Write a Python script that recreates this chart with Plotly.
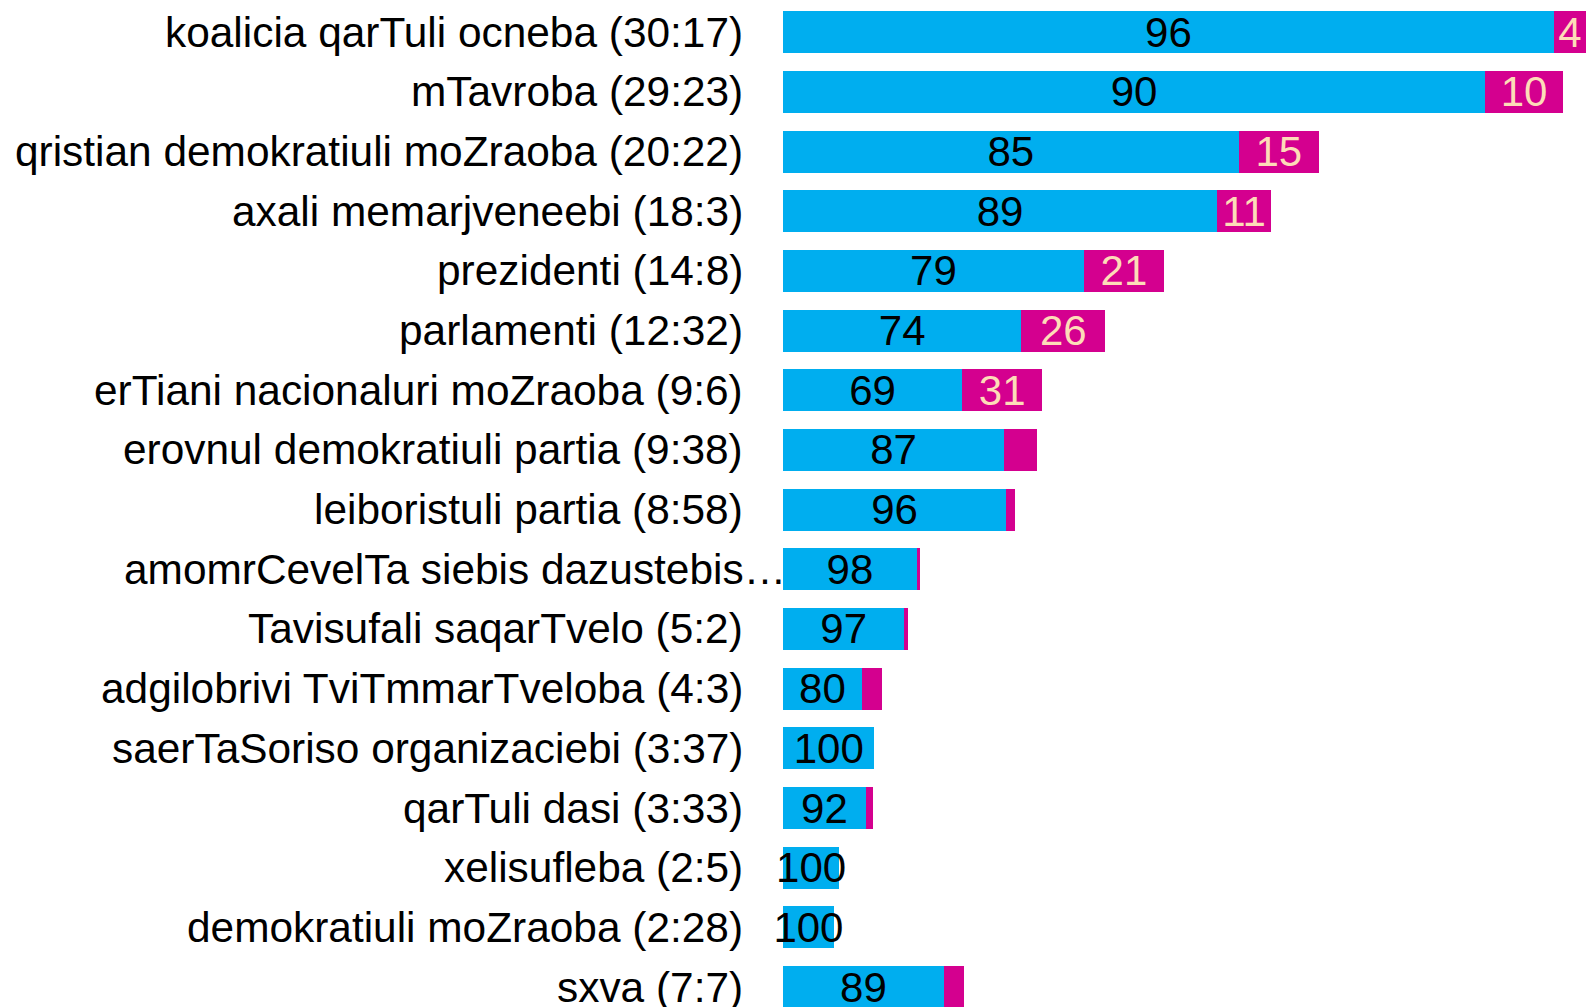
import plotly.graph_objects as go

# ---- data ----
labels = [
    "koalicia qarTuli ocneba (30:17)",
    "mTavroba (29:23)",
    "qristian demokratiuli moZraoba (20:22)",
    "axali memarjveneebi (18:3)",
    "prezidenti (14:8)",
    "parlamenti (12:32)",
    "erTiani nacionaluri moZraoba (9:6)",
    "erovnul demokratiuli partia (9:38)",
    "leiboristuli partia (8:58)",
    "amomrCevelTa siebis dazustebis…",
    "Tavisufali saqarTvelo (5:2)",
    "adgilobrivi TviTmmarTveloba (4:3)",
    "saerTaSoriso organizaciebi (3:37)",
    "qarTuli dasi (3:33)",
    "xelisufleba (2:5)",
    "demokratiuli moZraoba (2:28)",
    "sxva (7:7)",
]
totals = [1817, 1765, 1213, 1104, 862, 729, 587, 575, 526, 309, 283, 223, 207, 204, 127, 115, 409]
blue_pct = [96, 90, 85, 89, 79, 74, 69, 87, 96, 98, 97, 80, 100, 92, 100, 100, 89]
pink_labels = ["4", "10", "15", "11", "21", "26", "31", "", "", "", "", "", "", "", "", "", ""]

BLUE = "#00AEEF"
PINK = "#D4008F"
PEACH = "#FDDCB8"
FONT = "Liberation Sans, Arial, sans-serif"
FS = 42
FS_LABEL = 42.4

blue_vals = [t * p / 100 for t, p in zip(totals, blue_pct)]
pink_vals = [t * (100 - p) / 100 for t, p in zip(totals, blue_pct)]

fig = go.Figure()
fig.add_trace(go.Bar(
    y=labels, x=blue_vals, orientation="h",
    marker=dict(color=BLUE, line=dict(width=0)),
    text=[str(p) for p in blue_pct],
    textposition="inside", insidetextanchor="middle", constraintext="none",
    textangle=0,
    textfont=dict(family=FONT, size=FS, color="black"),
    cliponaxis=False, hoverinfo="skip",
))
fig.add_trace(go.Bar(
    y=labels, x=pink_vals, orientation="h",
    marker=dict(color=PINK, line=dict(width=0)),
    text=pink_labels,
    textposition="inside", insidetextanchor="middle", constraintext="none",
    textangle=0,
    textfont=dict(family=FONT, size=FS, color=PEACH),
    cliponaxis=False, hoverinfo="skip",
))

for lab in labels:
    fig.add_annotation(
        x=0, xref="paper", y=lab, yref="y",
        text=lab, showarrow=False,
        xanchor="right", yanchor="middle",
        xshift=5 if lab.endswith("…") else -38,
        font=dict(family=FONT, size=FS_LABEL, color="black"),
    )

n = len(labels)
fig.update_layout(
    width=1586, height=1007,
    margin=dict(l=783, r=0, t=0, b=0, pad=0),
    barmode="stack", bargap=0.296,
    showlegend=False,
    paper_bgcolor="white", plot_bgcolor="white",
    xaxis=dict(range=[0, max(totals)], visible=False, fixedrange=True),
    yaxis=dict(type="category", categoryorder="array", categoryarray=labels,
               range=[n - 0.666, -0.5395], visible=False, fixedrange=True),
)

fig.write_html("out.html", config={"displayModeBar": False},
               post_script="document.body.style.margin='0';document.body.style.overflow='hidden';")
